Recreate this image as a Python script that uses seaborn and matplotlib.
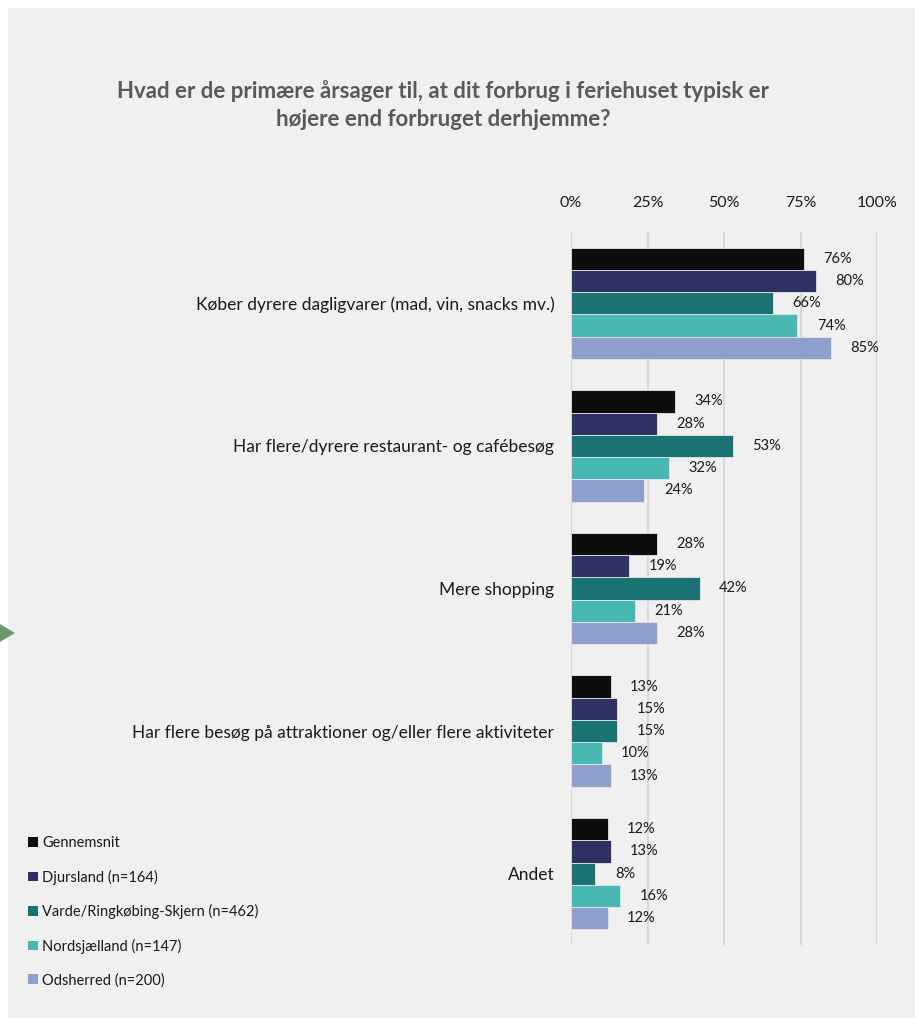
import matplotlib
matplotlib.use("Agg")
import matplotlib.pyplot as plt
from matplotlib.patches import Rectangle, Polygon, Patch
import seaborn as sns
import pandas as pd

categories = [
    "Køber dyrere dagligvarer (mad, vin, snacks mv.)",
    "Har flere/dyrere restaurant- og cafébesøg",
    "Mere shopping",
    "Har flere besøg på attraktioner og/eller flere aktiviteter",
    "Andet",
]
series = [
    "Gennemsnit",
    "Djursland (n=164)",
    "Varde/Ringkøbing-Skjern (n=462)",
    "Nordsjælland (n=147)",
    "Odsherred (n=200)",
]
gennemsnit = [76, 34, 28, 13, 12]
djursland = [80, 28, 19, 15, 13]
varde = [66, 53, 42, 15, 8]
nordsjaelland = [74, 32, 21, 10, 16]
odsherred = [85, 24, 28, 13, 12]
colors = ["#0d0d0d", "#2e3262", "#1a7272", "#48b8b2", "#8f9fcd"]
xticks = [0, 25, 50, 75, 100]
xticklabels = ["0%", "25%", "50%", "75%", "100%"]
title = "Hvad er de primære årsager til, at dit forbrug i feriehuset typisk er\nhøjere end forbruget derhjemme?"

values = [gennemsnit, djursland, varde, nordsjaelland, odsherred]
rows = []
for s, vals in zip(series, values):
    for c, v in zip(categories, vals):
        rows.append({"Kategori": c, "Serie": s, "Andel": v})
df = pd.DataFrame(rows)

sns.set_theme(style="white")
plt.rcParams["font.family"] = ["Lato", "DejaVu Sans"]

W, H = 915, 1018
fig = plt.figure(figsize=(W / 100, H / 100), dpi=100)
fig.patch.set_facecolor("white")
fig.patches.append(Rectangle((8 / W, 0), 1, (H - 8) / H, transform=fig.transFigure,
                             facecolor="#f0f0f0", edgecolor="none", zorder=-10))
# small green arrow marker at left edge
fig.patches.append(Polygon([(0, 1 - 624 / H), (15 / W, 1 - 633 / H), (0, 1 - 642 / H)],
                           closed=True, transform=fig.transFigure,
                           facecolor="#6b9a6b", edgecolor="none"))

ax = fig.add_axes([571 / W, (H - 945) / H, 306 / W, 713 / H])
ax.set_facecolor("none")

sns.barplot(data=df, y="Kategori", x="Andel", hue="Serie", order=categories,
            hue_order=series, palette=colors, orient="h", width=0.78,
            saturation=1, edgecolor="#e6e6e6", linewidth=0.6, ax=ax, legend=True)

for cont in ax.containers:
    ax.bar_label(cont, labels=[f"{v:.0f}%" for v in cont.datavalues], padding=14,
                 fontsize=10.5, color="#1a1a1a")

ax.set_xlim(0, 100)
ax.set_ylim(4.5, -0.5)
ax.set_xticks(xticks)
ax.set_xticklabels(xticklabels, fontsize=11.5, color="#1a1a1a")
ax.xaxis.tick_top()
ax.tick_params(axis="x", length=0, pad=16)
ax.tick_params(axis="y", length=0, pad=12, labelsize=12.5, labelcolor="#1a1a1a")
ax.set_xlabel("")
ax.set_ylabel("")
for sp in ax.spines.values():
    sp.set_visible(False)
ax.grid(axis="x", color="#d9d9d9", linewidth=1.5, zorder=0)
ax.set_axisbelow(True)

handles = [Patch(facecolor=c, edgecolor="none") for c in colors]
ax.legend_.remove()
fig.legend(handles, series, loc="upper left", bbox_to_anchor=(15 / W, 1 - 823 / H),
           bbox_transform=fig.transFigure, frameon=False, fontsize=10.5,
           handlelength=0.65, handleheight=0.65, handletextpad=0.3,
           labelspacing=1.33, labelcolor="#1a1a1a")

fig.text(443 / W, 1 - 105 / H, title, ha="center", va="center", fontsize=16,
         fontweight="bold", color="#595959", linespacing=1.45)

fig.savefig("out.png", dpi=100, facecolor=fig.get_facecolor())
